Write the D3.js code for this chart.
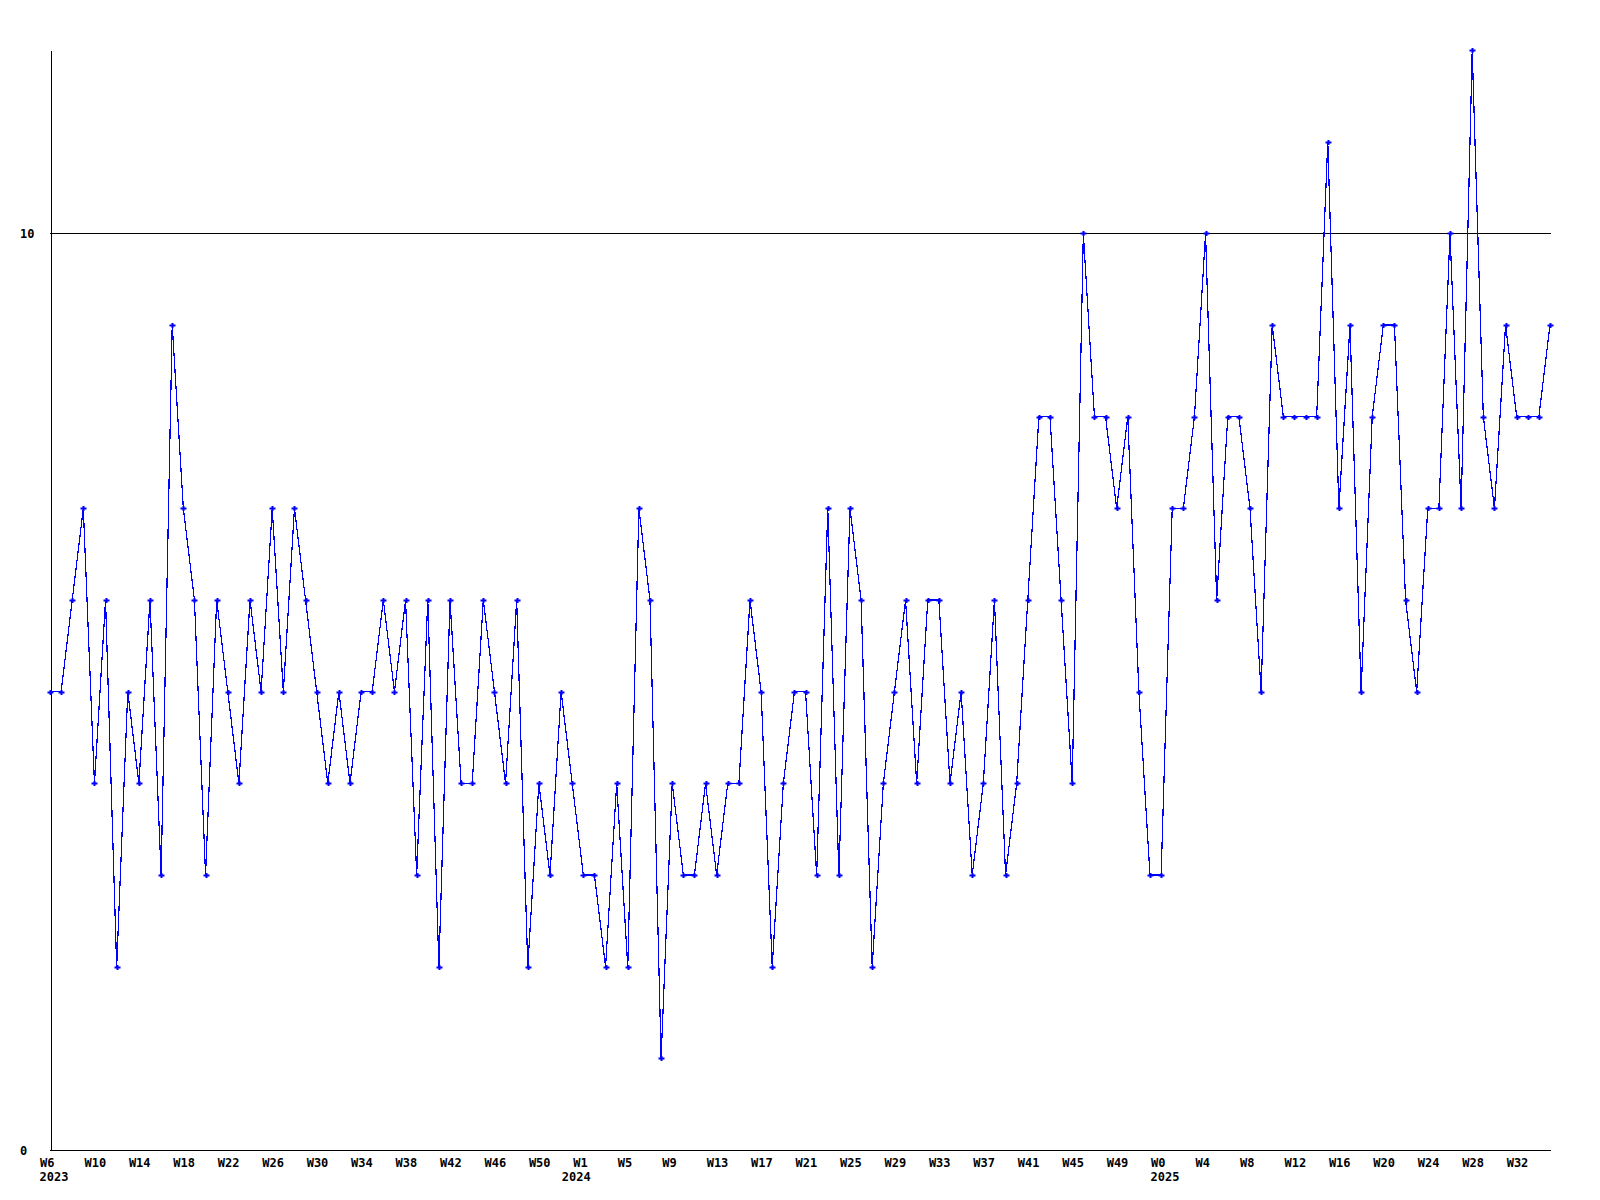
<!DOCTYPE html>
<html>
<head>
<meta charset="utf-8">
<script src="https://cdn.jsdelivr.net/npm/d3@7"></script>
<style>
  html, body { margin: 0; padding: 0; background: #ffffff; }
  svg { display: block; }
  text { font-family: "DejaVu Sans Mono", "Liberation Mono", monospace; font-weight: bold; font-size: 12px; fill: #000; }
</style>
</head>
<body>
<svg id="chart" width="1600" height="1200"></svg>
<script>
// ---- data ----
const weeks2023 = ["W6","W7","W8","W9","W10","W11","W12","W13","W14","W15","W16","W17","W18","W19","W20","W21","W22","W23","W24","W25","W26","W27","W28","W29","W30","W31","W32","W33","W34","W35","W36","W37","W38","W39","W40","W41","W42","W43","W44","W45","W46","W47","W48","W49","W50","W51","W52"];
const weeks2024 = ["W0","W1","W2","W3","W4","W5","W6","W7","W8","W9","W10","W11","W12","W13","W14","W15","W16","W17","W18","W19","W20","W21","W22","W23","W24","W25","W26","W27","W28","W29","W30","W31","W32","W33","W34","W35","W36","W37","W38","W39","W40","W41","W42","W43","W44","W45","W46","W47","W48","W49","W50","W51","W52"];
const weeks2025 = ["W0","W1","W2","W3","W4","W5","W6","W7","W8","W9","W10","W11","W12","W13","W14","W15","W16","W17","W18","W19","W20","W21","W22","W23","W24","W25","W26","W27","W28","W29","W30","W31","W32","W33","W34","W35"];
const years = ["2023", "2024", "2025"];

const values = [
  5,5,6,7,4,6,2,5,4,6,3,9,7,6,3,6,5,4,6,5,7,5,7,6,5,4,5,4,5,5,
  6,5,6,3,6,2,6,4,4,6,5,4,6,2,4,3,5,4,3,3,2,4,2,7,6,1,4,3,3,4,
  3,4,4,6,5,2,4,5,5,3,7,3,7,6,2,4,5,6,4,6,6,4,5,3,4,6,3,4,6,8,
  8,6,4,10,8,8,7,8,5,3,3,7,7,8,10,6,8,8,7,5,9,8,8,8,8,11,7,9,5,8,
  9,9,6,5,7,7,10,7,12,8,7,9,8,8,8,9
];
const yTicks = [0, 10];
const gridValues = [10];

// ---- build categories ----
const weekSets = [weeks2023, weeks2024, weeks2025];
const categories = [];
weekSets.forEach((ws, k) => ws.forEach(w => categories.push(years[k] + " " + w)));
const data = categories.map((c, i) => ({ cat: c, value: values[i] }));

// ---- scales ----
const svg = d3.select("#chart");
svg.append("rect").attr("width", 1600).attr("height", 1200).attr("fill", "#fff");

const x = d3.scalePoint().domain(categories).range([50, 1550]).padding(0);
const y = d3.scaleLinear().domain([0, 12]).range([1150, 50]);

// ---- grid line ----
svg.append("g").selectAll("line").data(gridValues).join("line")
  .attr("x1", 50).attr("x2", 1551)
  .attr("y1", d => Math.round(y(d)) + 0.5).attr("y2", d => Math.round(y(d)) + 0.5)
  .attr("stroke", "#000").attr("stroke-width", 1).attr("shape-rendering", "crispEdges");

// ---- y axis ----
const yAxis = svg.append("g").attr("transform", "translate(50.5,0)")
  .call(d3.axisLeft(y).tickValues(yTicks).tickSize(0).tickSizeOuter(0).tickFormat(d3.format("d")));
yAxis.select(".domain").attr("stroke", "#000").attr("shape-rendering", "crispEdges");
yAxis.selectAll("text").attr("x", -30.5).attr("dy", "0.35em").attr("text-anchor", "start");
yAxis.attr("font-family", null).attr("font-size", null);

// ---- x axis ----
const tickCats = categories.filter((c, i) => i % 4 === 0);
const xAxis = svg.append("g").attr("transform", "translate(0,1150.5)")
  .call(d3.axisBottom(x).tickValues(tickCats).tickSize(0).tickSizeOuter(0)
    .tickFormat(c => c.split(" ")[1]));
xAxis.select(".domain").attr("d", "M50,0H1551").attr("stroke", "#000").attr("shape-rendering", "crispEdges");
xAxis.selectAll("text").attr("text-anchor", "start").attr("x", -10.5).attr("y", 12).attr("dy", "0.35em");
xAxis.attr("font-family", null).attr("font-size", null);

// year labels at the first week of each year
const yearStarts = years.map(yr => categories.find(c => c.startsWith(yr)));
svg.append("g").selectAll("text").data(yearStarts).join("text")
  .attr("x", d => x(d) - 10.5).attr("y", 1177).attr("dy", "0.35em")
  .attr("text-anchor", "start")
  .text(d => d.split(" ")[0]);

// ---- line ----
const line = d3.line().x(d => x(d.cat)).y(d => y(d.value));
svg.append("path").datum(data)
  .attr("d", line)
  .attr("fill", "none").attr("stroke", "#0000ff").attr("stroke-width", 1.2)
  .attr("shape-rendering", "crispEdges");

// ---- markers ----
svg.append("g").selectAll("path").data(data).join("path")
  .attr("d", d => {
    const cx = Math.round(x(d.cat)), cy = Math.round(y(d.value));
    return `M${cx - 2.5},${cy + 0.5}H${cx + 3.5}M${cx + 0.5},${cy - 2}V${cy + 3}`;
  })
  .attr("stroke", "#0000ff").attr("stroke-width", 2).attr("fill", "none");
</script>
</body>
</html>
